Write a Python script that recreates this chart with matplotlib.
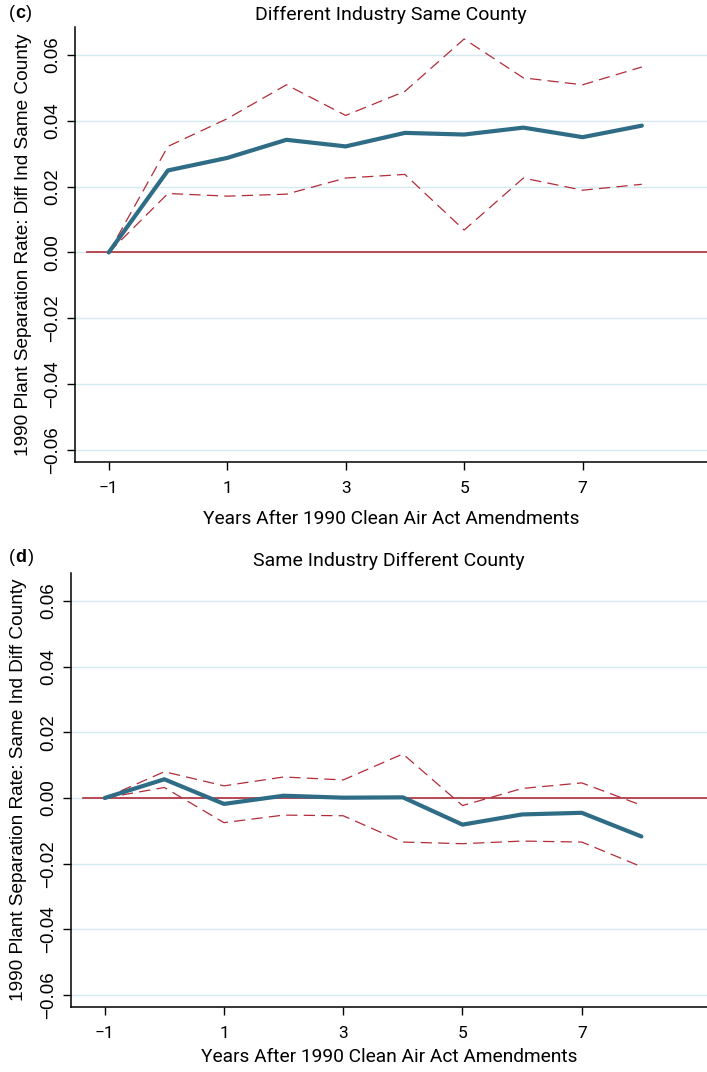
import matplotlib
matplotlib.use("Agg")
import matplotlib.pyplot as plt
import numpy as np

# event time (years relative to 1990 CAAA)
years = [-1, 0, 1, 2, 3, 4, 5, 6, 7, 8]

# panel (c): different industry, same county
c_est = [0.0, 0.0249, 0.0287, 0.0342, 0.0322, 0.0363, 0.0358, 0.0379, 0.0350, 0.0385]
c_hi = [0.0, 0.0322, 0.0406, 0.0509, 0.0416, 0.0489, 0.0648, 0.0530, 0.0509, 0.0563]
c_lo = [0.0, 0.0179, 0.0171, 0.0177, 0.0226, 0.0237, 0.0068, 0.0226, 0.0189, 0.0207]

# panel (d): same industry, different county
d_est = [0.0, 0.0057, -0.0018, 0.0007, 0.0001, 0.0002, -0.0081, -0.0050, -0.0045, -0.0117]
d_hi = [0.0, 0.0080, 0.0037, 0.0064, 0.0055, 0.0134, -0.0023, 0.0029, 0.0046, -0.0022]
d_lo = [0.0, 0.0032, -0.0075, -0.0052, -0.0054, -0.0134, -0.0139, -0.0131, -0.0134, -0.0209]

xticks = [-1, 1, 3, 5, 7]
yticks = [-0.06, -0.04, -0.02, 0.0, 0.02, 0.04, 0.06]
ytick_labels = ["\u22120.06", "\u22120.04", "\u22120.02", "0.00", "0.02", "0.04", "0.06"]

navy = "#2f6c86"
red = "#b22c38"
grid_col = "#d3eaf0"
narrow = ["Roboto", "Liberation Sans", "DejaVu Sans"]
wide = ["Liberation Sans", "DejaVu Sans"]

fig = plt.figure(figsize=(7.07, 10.72), dpi=100)


def panel(rect, est, hi, lo, title, ylabel, xlab_pad):
    ax = fig.add_axes(rect)
    ax.set_xlim(-1.57, 9.1)
    ax.set_ylim(-0.0636, 0.0685)
    for y in yticks:
        ax.axhline(y, color=grid_col, lw=1.0, zorder=0)
    ax.plot([-1.37, 9.1], [0, 0], color=red, lw=1.2, zorder=2)
    ax.plot(years, hi, color=red, lw=0.9, ls=(0, (9, 5)), zorder=3)
    ax.plot(years, lo, color=red, lw=0.9, ls=(0, (9, 5)), zorder=3)
    ax.plot(years, est, color=navy, lw=3.0, zorder=4, solid_capstyle="round")

    for s in ["top", "right"]:
        ax.spines[s].set_visible(False)
    ax.spines["left"].set_linewidth(1.1)
    ax.spines["bottom"].set_linewidth(1.1)

    ax.set_xticks(xticks)
    ax.set_xticklabels(["\u22121", "1", "3", "5", "7"], family=narrow, fontsize=12.5)
    ax.set_yticks(yticks)
    ax.set_yticklabels(ytick_labels, family=wide, fontsize=13.5, rotation=90, va="center")
    ax.tick_params(direction="out", length=6, width=1, pad=4)
    ax.tick_params(axis="x", pad=8)

    ax.set_title(title, family=narrow, fontsize=14, pad=5)
    ax.set_xlabel("Years After 1990 Clean Air Act Amendments", family=narrow,
                  fontsize=13.8, labelpad=xlab_pad)
    ax.set_ylabel(ylabel, family=wide, fontsize=13.7, labelpad=9)
    return ax


ax1 = panel([0.106, 0.569, 0.894, 0.406], c_est, c_hi, c_lo,
            "Different Industry Same County",
            "1990 Plant Separation Rate: Diff Ind Same County", 10)
ax2 = panel([0.100, 0.0606, 0.900, 0.405], d_est, d_hi, d_lo,
            "Same Industry Different County",
            "1990 Plant Separation Rate: Same Ind Diff County", 5)

fig.text(0.013, 0.987, "(", family=wide, fontsize=13, va="center")
fig.text(0.022, 0.987, "c", family=wide, fontsize=13, weight="bold", va="center")
fig.text(0.037, 0.987, ")", family=wide, fontsize=13, va="center")
fig.text(0.013, 0.480, "(", family=wide, fontsize=13, va="center")
fig.text(0.022, 0.480, "d", family=wide, fontsize=13, weight="bold", va="center")
fig.text(0.040, 0.480, ")", family=wide, fontsize=13, va="center")

fig.savefig("out.png", dpi=100)
